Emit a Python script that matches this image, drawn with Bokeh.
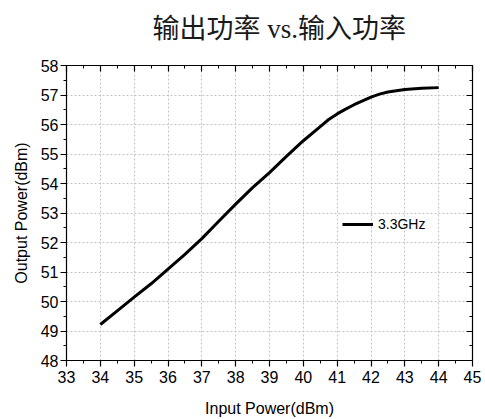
from bokeh.plotting import figure
from bokeh.models import LinearAxis, Legend, LegendItem, SingleIntervalTicker, Range1d, CustomJSTickFormatter
from bokeh.embed import file_html
from bokeh.resources import INLINE

input_power = [34, 34.5, 35, 35.5, 36, 36.5, 37, 37.5, 38, 38.5, 39, 39.5, 40, 40.5, 40.75, 41, 41.25, 41.5, 41.75, 42, 42.25, 42.5, 43, 43.5, 44]
output_power = [49.22, 49.68, 50.15, 50.6, 51.1, 51.6, 52.13, 52.72, 53.3, 53.86, 54.37, 54.92, 55.45, 55.93, 56.17, 56.36, 56.52, 56.67, 56.8, 56.93, 57.03, 57.1, 57.19, 57.23, 57.25]
series_label = "3.3GHz"
title_text = "输出功率 vs.输入功率"
x_label = "Input Power(dBm)"
y_label = "Output Power(dBm)"

p = figure(width=485, height=419, output_backend="svg", toolbar_location=None,
           x_range=Range1d(33, 45), y_range=Range1d(48, 58),
           min_border_left=66, min_border_right=13, min_border_top=65, min_border_bottom=56)
p.outline_line_color = "black"
p.outline_line_width = 1

p.title.text = title_text
p.title.text_font = "'Liberation Serif', 'Noto Sans CJK SC'"
p.title.text_font_size = "27px"
p.title.text_font_style = "normal"
p.title.align = "left"
p.title.offset = 86
p.title.standoff = 6
p.title.padding = dict(left=0, right=0, top=0, bottom=19)
p.title.text_color = "#1a1a1a"

xt = SingleIntervalTicker(interval=1, num_minor_ticks=2)
yt = SingleIntervalTicker(interval=1, num_minor_ticks=2)

def style_axis(ax, inside=False):
    ax.axis_line_color = "black"
    ax.axis_line_width = 1.2
    ax.major_tick_line_color = "black"
    ax.minor_tick_line_color = "black"
    ax.major_tick_line_width = 1.2
    ax.minor_tick_line_width = 1
    if inside:
        ax.major_tick_in = 6
        ax.major_tick_out = 0
        ax.minor_tick_in = 3
        ax.minor_tick_out = 0
    else:
        ax.major_tick_in = 0
        ax.major_tick_out = 6
        ax.minor_tick_in = 0
        ax.minor_tick_out = 3
    ax.major_label_text_font = "Liberation Sans"
    ax.major_label_text_font_size = "16px"
    ax.major_label_text_color = "black"
    ax.axis_label_text_font = "Liberation Sans"
    ax.axis_label_text_font_size = "16px"
    ax.axis_label_text_font_style = "normal"
    ax.axis_label_text_color = "black"

p.xaxis.ticker = xt
p.yaxis.ticker = yt
p.xaxis.axis_label = x_label
p.yaxis.axis_label = y_label
for ax in p.xaxis + p.yaxis:
    style_axis(ax)
p.xaxis.major_label_standoff = 4
p.xaxis.axis_label_standoff = 14
p.yaxis.major_label_standoff = 2
p.yaxis.axis_label_standoff = 8

top = LinearAxis(ticker=xt, formatter=CustomJSTickFormatter(code="return ''"))
style_axis(top, inside=True)
p.add_layout(top, "above")
right = LinearAxis(ticker=yt, formatter=CustomJSTickFormatter(code="return ''"))
style_axis(right, inside=True)
p.add_layout(right, "right")

for g in (p.xgrid, p.ygrid):
    g.grid_line_color = "#c4c4c4"
    g.grid_line_dash = "2 2"
    g.grid_line_width = 1
p.xgrid.ticker = xt
p.ygrid.ticker = yt

r = p.line(input_power, output_power, line_color="black", line_width=3, line_join="round")

legend = Legend(items=[LegendItem(label=series_label, renderers=[r])],
                location=(276, 126), glyph_width=31, glyph_height=20,
                label_text_font="Liberation Sans", label_text_font_size="14px",
                label_text_color="black",
                label_standoff=5, padding=0, margin=0, spacing=0,
                border_line_color=None, background_fill_alpha=0)
p.add_layout(legend, "center")

open("out.html", "w").write(file_html(p, INLINE))
